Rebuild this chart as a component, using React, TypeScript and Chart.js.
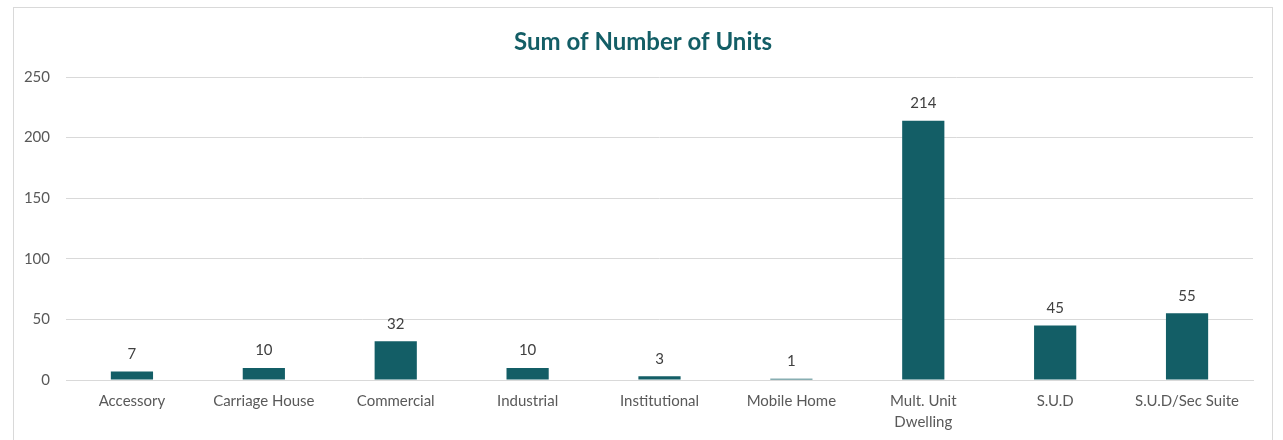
import React, { useEffect, useRef } from "react";
import { Chart, registerables } from "chart.js";

Chart.register(...registerables);

const categories: (string | string[])[] = [
  "Accessory",
  "Carriage House",
  "Commercial",
  "Industrial",
  "Institutional",
  "Mobile Home",
  ["Mult. Unit", "Dwelling"],
  "S.U.D",
  "S.U.D/Sec Suite",
];
const units: number[] = [7, 10, 32, 10, 3, 1, 214, 45, 55];
const yTicks: number[] = [0, 50, 100, 150, 200, 250];
const TITLE = "Sum of Number of Units";

const FONT = "Lato, 'Open Sans', 'Liberation Sans', sans-serif";
const BAR = "#135E66";

const valueLabels = {
  id: "valueLabels",
  afterDatasetsDraw(chart: any) {
    const ctx = chart.ctx;
    const meta = chart.getDatasetMeta(0);
    ctx.save();
    ctx.font = `15px ${FONT}`;
    ctx.fillStyle = "#404040";
    ctx.textAlign = "center";
    ctx.textBaseline = "bottom";
    meta.data.forEach((bar: any, i: number) => {
      ctx.fillText(String(units[i]), bar.x, bar.y - 10);
    });
    ctx.restore();
  },
};

const centeredTitle = {
  id: "centeredTitle",
  afterDraw(chart: any) {
    const ctx = chart.ctx;
    ctx.save();
    ctx.font = `bold 24px ${FONT}`;
    ctx.fillStyle = "#135E66";
    ctx.textAlign = "center";
    ctx.textBaseline = "middle";
    ctx.fillText(TITLE, chart.width / 2, 34);
    ctx.restore();
  },
};

export default function App() {
  const ref = useRef<HTMLCanvasElement>(null);
  useEffect(() => {
    if (!ref.current) return;
    const chart = new Chart(ref.current, {
      type: "bar",
      data: {
        labels: categories as any,
        datasets: [
          {
            data: units,
            backgroundColor: BAR,
            borderWidth: 0,
            categoryPercentage: 1,
            barPercentage: 0.32,
          },
        ],
      },
      options: {
        animation: false,
        responsive: false,
        layout: { padding: { left: 0, right: 19, top: 69, bottom: 0 } },
        plugins: {
          legend: { display: false },
          tooltip: { enabled: false },
          title: { display: false },
        },
        scales: {
          x: {
            offset: true,
            grid: { display: false, drawTicks: false },
            border: { display: true, color: "#d9d9d9", width: 1 },
            ticks: {
              color: "#595959",
              font: { family: FONT, size: 15, lineHeight: 1.4 },
              padding: 11,
              maxRotation: 0,
              autoSkip: false,
            },
            afterFit: (s: any) => {
              s.height = 68;
            },
          },
          y: {
            min: 0,
            max: 250,
            afterBuildTicks: (s: any) => {
              s.ticks = yTicks.map((v) => ({ value: v }));
            },
            grid: { color: "#d9d9d9", drawTicks: false },
            border: { display: false },
            ticks: {
              color: "#595959",
              font: { family: FONT, size: 15 },
              padding: 16,
            },
            afterFit: (s: any) => {
              s.width = 52;
            },
          },
        },
      },
      plugins: [valueLabels, centeredTitle],
    });
    return () => chart.destroy();
  }, []);

  return (
    <div
      style={{
        position: "absolute",
        left: 13,
        top: 7,
        width: 1258,
        height: 440,
        border: "1px solid #d9d9d9",
        background: "#fff",
      }}
    >
      <canvas ref={ref} width={1258} height={440} style={{ display: "block" }} />
    </div>
  );
}
